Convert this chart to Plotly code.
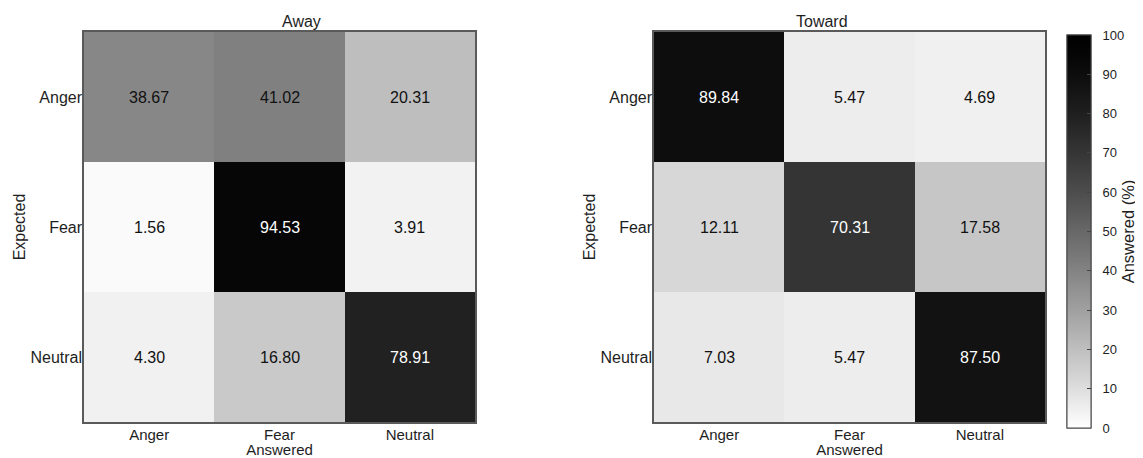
import plotly.graph_objects as go

categories = ["Anger", "Fear", "Neutral"]
away = [[38.67, 41.02, 20.31],
        [1.56, 94.53, 3.91],
        [4.30, 16.80, 78.91]]
toward = [[89.84, 5.47, 4.69],
          [12.11, 70.31, 17.58],
          [7.03, 5.47, 87.50]]
titles = ["Away", "Toward"]
cb_ticks = [0, 10, 20, 30, 40, 50, 60, 70, 80, 90, 100]

OFF = 8                      # default page body margin
W, H = 1143 - OFF, 458 - OFF
FONT = "Liberation Sans, Arial, Helvetica, sans-serif"
TXT = "#1e1e1e"

# gray colormap, white (0) to black (100), slightly gamma-shaped
stops = []
n = 20
for i in range(n + 1):
    t = i / n
    g = round(255 * (1 - t) ** 1.3)
    stops.append([t, f"rgb({g},{g},{g})"])


def px_x(p):
    return (p - OFF) / W


def px_y(p):
    return 1 - (p - OFF) / H


domains = [(px_x(84), px_x(475)), (px_x(654), px_x(1045))]
ydom = (px_y(422), px_y(32))

cb_base = dict(
    x=px_x(1067), xanchor="left", xpad=0,
    y=px_y(428), yanchor="bottom", ypad=0,
    len=(428 - 35) / H, lenmode="fraction",
    thickness=24, thicknessmode="pixels",
    outlinecolor="#444", outlinewidth=1,
    tickvals=cb_ticks,
)
# colorbar drawn twice at the same place: one carries the small inside tick
# marks, the other the labels and title (pushed out a little further)
cb_marks = dict(cb_base, ticks="inside", ticklen=4, tickcolor="#444",
                showticklabels=False)
cb_labels = dict(cb_base, ticks="outside", ticklen=9,
                 tickcolor="rgba(0,0,0,0)",
                 tickfont=dict(family=FONT, size=13, color=TXT),
                 title=dict(text="Answered (%)", side="right",
                            font=dict(family=FONT, size=16.5, color=TXT)))

fig = go.Figure()

for k, (data, title) in enumerate(zip([away, toward], titles)):
    xa = "x" if k == 0 else "x2"
    ya = "y" if k == 0 else "y2"
    fig.add_trace(go.Heatmap(
        z=data, x=categories, y=categories,
        zmin=0, zmax=100, colorscale=stops,
        xaxis=xa, yaxis=ya,
        showscale=True,
        hoverinfo="skip",
        colorbar=cb_labels if k == 0 else cb_marks,
    ))
    for i, row in enumerate(data):
        for j, v in enumerate(row):
            fig.add_annotation(
                x=categories[j], y=categories[i], xref=xa, yref=ya,
                text=f"{v:.2f}", showarrow=False,
                font=dict(family=FONT, size=16,
                          color="white" if v > 60 else "#111"),
            )
    fig.add_annotation(
        x=sum(domains[k]) / 2, y=ydom[1], xref="paper", yref="paper",
        text=title, showarrow=False, yanchor="bottom", yshift=0,
        font=dict(family=FONT, size=16, color=TXT),
    )

axis_common = dict(
    showgrid=False, zeroline=False, showline=True, mirror=True,
    linecolor="#5a5a5a", linewidth=1.5, ticks="", automargin=False,
)

xtitle = dict(text="Answered", standoff=6,
              font=dict(family=FONT, size=15, color=TXT))
ytitle = dict(text="Expected", standoff=1,
              font=dict(family=FONT, size=16, color=TXT))
xfont = dict(family=FONT, size=15, color=TXT)
yfont = dict(family=FONT, size=16, color=TXT)

fig.update_layout(
    width=W, height=H,
    margin=dict(l=0, r=0, t=0, b=0),
    paper_bgcolor="white", plot_bgcolor="white",
    font=dict(family=FONT, color=TXT),
    xaxis=dict(domain=domains[0], anchor="y", tickfont=xfont,
               ticklabelstandoff=-2, title=xtitle, **axis_common),
    yaxis=dict(domain=ydom, anchor="x", autorange="reversed",
               ticklabelstandoff=-3, tickfont=yfont, title=ytitle,
               **axis_common),
    xaxis2=dict(domain=domains[1], anchor="y2", tickfont=xfont,
                ticklabelstandoff=-2, title=xtitle, **axis_common),
    yaxis2=dict(domain=ydom, anchor="x2", autorange="reversed",
                ticklabelstandoff=-3, tickfont=yfont, title=ytitle,
                **axis_common),
)

fig.write_html("out.html")
